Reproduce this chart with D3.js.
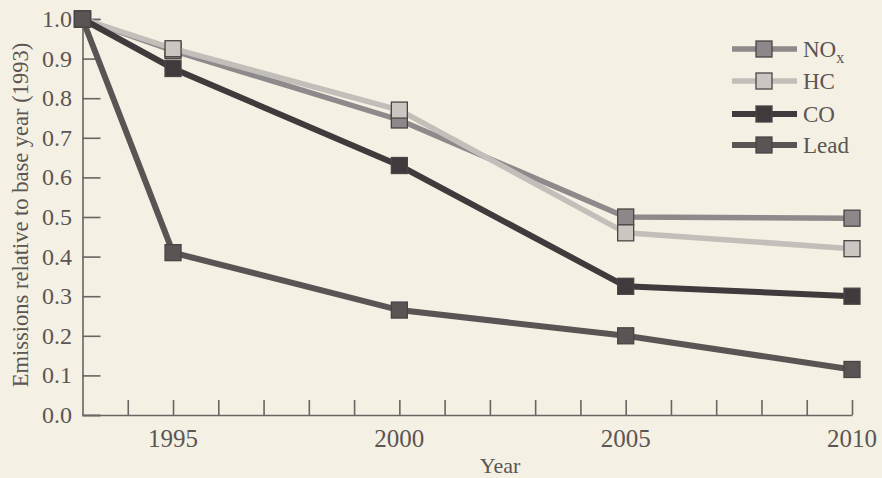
<!DOCTYPE html>
<html>
<head>
<meta charset="utf-8">
<script src="https://cdn.jsdelivr.net/npm/d3@7"></script>
<style>
  body { margin: 0; background: #f4f0e3; }
  svg { display: block; }
</style>
</head>
<body>
<div id="chart"></div>
<script>
// data
const years = [1993, 1995, 2000, 2005, 2010];
const nox  = [1.0, 0.92, 0.745, 0.50, 0.497];
const hc   = [1.0, 0.925, 0.77, 0.46, 0.42];
const co   = [1.0, 0.875, 0.63, 0.325, 0.30];
const lead = [1.0, 0.41, 0.265, 0.20, 0.115];
const seriesNames = ["NOx", "HC", "CO", "Lead"];
const yTicks = [0, 0.1, 0.2, 0.3, 0.4, 0.5, 0.6, 0.7, 0.8, 0.9, 1.0];
const xLabels = [1995, 2000, 2005, 2010];

const width = 882, height = 478;
const textColor = "#5b5553";
const font = "'Liberation Serif', serif";

const series = [
  {name: "NOx",  values: nox,  line: "#8e898a", fill: "#8c8788", lw: 5.5},
  {name: "HC",   values: hc,   line: "#c2bfba", fill: "#cac7c2", lw: 5.5},
  {name: "CO",   values: co,   line: "#3f3a3b", fill: "#3f3a3b", lw: 6},
  {name: "Lead", values: lead, line: "#5a5455", fill: "#5a5455", lw: 6}
];

const svg = d3.select("#chart").append("svg")
  .attr("width", width).attr("height", height)
  .style("font-family", font);

const x = d3.scaleLinear().domain([1993, 2010]).range([82.5, 852]);
const y = d3.scaleLinear().domain([0, 1]).range([415, 19]);

// y axis: ticks pointing inward
const yAxis = svg.append("g")
  .attr("transform", `translate(${x(1993)},0)`)
  .call(d3.axisRight(y).tickValues(yTicks).tickSize(18).tickFormat(""));
yAxis.select(".domain").attr("stroke", "#6a6462").attr("stroke-width", 1.6);
yAxis.selectAll(".tick line").attr("stroke", "#6a6462").attr("stroke-width", 1.6);

svg.append("g").selectAll("text")
  .data(yTicks)
  .join("text")
  .attr("x", 72)
  .attr("y", d => y(d) + 8)
  .attr("text-anchor", "end")
  .attr("fill", textColor)
  .style("font-size", "24px")
  .text(d => d.toFixed(1));

// x axis: ticks every year, pointing up
const xAxis = svg.append("g")
  .attr("transform", `translate(0,${y(0)})`)
  .call(d3.axisTop(x).tickValues(d3.range(1994, 2011)).tickSize(15).tickSizeOuter(0).tickFormat(""));
xAxis.select(".domain").attr("stroke", "#6a6462").attr("stroke-width", 1.6);
xAxis.selectAll(".tick line").attr("stroke", "#6a6462").attr("stroke-width", 1.6);

svg.append("g").selectAll("text")
  .data(xLabels)
  .join("text")
  .attr("x", d => x(d))
  .attr("y", 447)
  .attr("text-anchor", "middle")
  .attr("fill", textColor)
  .style("font-size", "25px")
  .text(d => d);

// axis titles
svg.append("text")
  .attr("x", 500).attr("y", 473)
  .attr("text-anchor", "middle")
  .attr("fill", textColor)
  .style("font-size", "22px")
  .text("Year");

svg.append("text")
  .attr("transform", "translate(28,215) rotate(-90)")
  .attr("text-anchor", "middle")
  .attr("fill", textColor)
  .style("font-size", "22.5px")
  .text("Emissions relative to base year (1993)");

// lines + markers
const line = d3.line().x(d => x(d[0])).y(d => y(d[1]));
const sq = 16;

series.forEach(s => {
  const pts = years.map((yr, i) => [yr, s.values[i]]);
  const g = svg.append("g");
  g.append("path")
    .datum(pts)
    .attr("d", line)
    .attr("fill", "none")
    .attr("stroke", s.line)
    .attr("stroke-width", s.lw);
  g.selectAll("rect")
    .data(pts)
    .join("rect")
    .attr("x", d => x(d[0]) - sq / 2)
    .attr("y", d => y(d[1]) - sq / 2)
    .attr("width", sq).attr("height", sq)
    .attr("fill", s.fill)
    .attr("stroke", "#4a4545")
    .attr("stroke-width", 1.3);
});

// legend
const legend = svg.append("g");
const legendY = [49, 81, 114, 145];
series.forEach((s, i) => {
  const ly = legendY[i];
  legend.append("line")
    .attr("x1", 732).attr("x2", 797)
    .attr("y1", ly).attr("y2", ly)
    .attr("stroke", s.line)
    .attr("stroke-width", s.lw);
  legend.append("rect")
    .attr("x", 764 - sq / 2).attr("y", ly - sq / 2)
    .attr("width", sq).attr("height", sq)
    .attr("fill", s.fill)
    .attr("stroke", "#4a4545")
    .attr("stroke-width", 1.3);
  const t = legend.append("text")
    .attr("x", 803).attr("y", ly + 8)
    .attr("fill", textColor)
    .style("font-size", "23px");
  if (s.name === "NOx") {
    t.append("tspan").text("NO");
    t.append("tspan").attr("dy", 6).style("font-size", "16px").text("x");
  } else {
    t.text(s.name);
  }
});
</script>
</body>
</html>
